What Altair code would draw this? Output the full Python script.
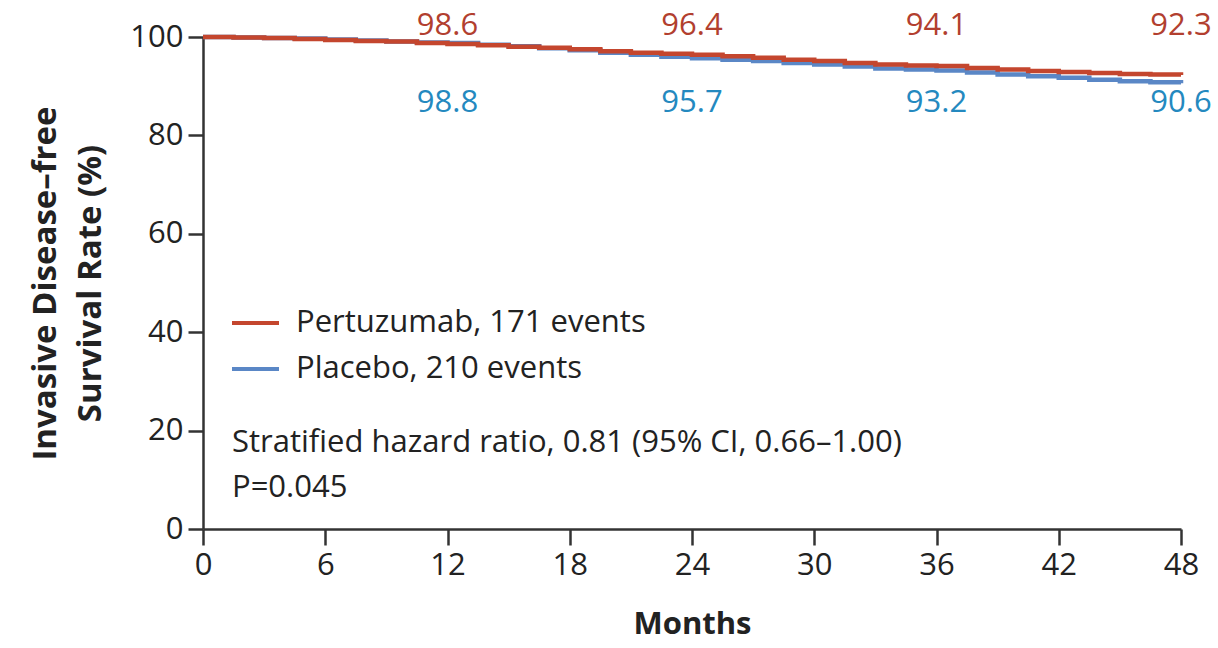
import altair as alt
import pandas as pd

# Kaplan-Meier estimates (invasive disease-free survival, %)
months = [0, 1.5, 3, 4.5, 6, 7.5, 9, 10.5, 12, 13.5, 15, 16.5, 18, 19.5, 21, 22.5,
          24, 25.5, 27, 28.5, 30, 31.5, 33, 34.5, 36, 37.5, 39, 40.5, 42, 43.5, 45, 46.5, 48]
pertuzumab = [100, 99.9, 99.8, 99.6, 99.4, 99.2, 99.1, 98.8, 98.6, 98.3, 98.0, 97.8, 97.5,
              97.1, 96.8, 96.6, 96.4, 96.1, 95.8, 95.4, 95.1, 94.7, 94.4, 94.2, 94.1, 93.7,
              93.4, 93.1, 92.9, 92.7, 92.5, 92.4, 92.3]
placebo = [100, 99.9, 99.8, 99.7, 99.5, 99.3, 99.1, 98.9, 98.8, 98.4, 98.1, 97.7, 97.3,
           96.8, 96.4, 96.0, 95.7, 95.4, 95.1, 94.7, 94.4, 94.0, 93.6, 93.4, 93.2, 92.8,
           92.4, 92.0, 91.7, 91.3, 91.0, 90.8, 90.6]

# Rates printed at yearly landmarks
landmark_months = [12, 24, 36, 48]
pertuzumab_landmarks = [98.6, 96.4, 94.1, 92.3]
placebo_landmarks = [98.8, 95.7, 93.2, 90.6]

x_ticks = [0, 6, 12, 18, 24, 30, 36, 42, 48]
y_ticks = [0, 20, 40, 60, 80, 100]

RED_LINE = "#c4462e"
BLUE_LINE = "#5a87c6"
RED_TEXT = "#b23f2f"
BLUE_TEXT = "#2489bf"
FONT = "Open Sans"

curves = pd.concat([
    pd.DataFrame({"month": months, "rate": placebo, "arm": "Placebo", "order": 0}),
    pd.DataFrame({"month": months, "rate": pertuzumab, "arm": "Pertuzumab", "order": 1}),
])

x_scale = alt.Scale(domain=[0, 48], nice=False, zero=False)
y_scale = alt.Scale(domain=[0, 100], nice=False)

x_enc = alt.X("month:Q", scale=x_scale, axis=alt.Axis(
    values=x_ticks, title="Months", grid=False, tickSize=16, tickWidth=2.5,
    domainWidth=2.5, domainColor="#333333", tickColor="#333333",
    labelFontSize=31, labelFont=FONT, labelColor="#222222", labelPadding=5,
    titleFontSize=31, titleFont=FONT, titleFontWeight="bold", titleColor="#222222",
    titlePadding=29, labelFlush=False))
y_enc = alt.Y("rate:Q", scale=y_scale, axis=alt.Axis(
    values=y_ticks, title=["Invasive Disease–free", "Survival Rate (%)"], grid=False,
    tickSize=15, tickWidth=2.5, domainWidth=2.5, domainColor="#333333",
    tickColor="#333333", labelFontSize=31, labelFont=FONT, labelColor="#222222",
    labelPadding=5, titleFontSize=33, titleFont=FONT, titleFontWeight="bold",
    titleColor="#222222", titlePadding=22, titleLineHeight=45))

lines = alt.Chart(curves).mark_line(interpolate="step-after", strokeWidth=4.5).encode(
    x=x_enc, y=y_enc,
    color=alt.Color("arm:N", scale=alt.Scale(domain=["Pertuzumab", "Placebo"],
                                             range=[RED_LINE, BLUE_LINE]), legend=None),
    detail="order:O",
    order="order:O",
)

lab_red = pd.DataFrame({"month": landmark_months, "rate": pertuzumab_landmarks})
lab_blue = pd.DataFrame({"month": landmark_months, "rate": placebo_landmarks})

red_text = alt.Chart(lab_red).mark_text(
    font=FONT, fontSize=31, color=RED_TEXT, align="center", baseline="middle"
).encode(x=alt.X("month:Q", scale=x_scale), y=alt.value(-11),
         text=alt.Text("rate:Q", format=".1f"))
blue_text = alt.Chart(lab_blue).mark_text(
    font=FONT, fontSize=31, color=BLUE_TEXT, align="center", baseline="middle"
).encode(x=alt.X("month:Q", scale=x_scale), y=alt.value(66),
         text=alt.Text("rate:Q", format=".1f"))

# Legend and statistics annotation
legend_df = pd.DataFrame({
    "label": ["Pertuzumab, 171 events", "Placebo, 210 events"],
    "ypx": [286, 332],
    "arm": ["Pertuzumab", "Placebo"],
})
legend_lines = alt.Chart(legend_df).mark_rule(strokeWidth=4).encode(
    x=alt.value(29), x2=alt.value(76), y=alt.Y("ypx:Q", scale=None),
    color=alt.Color("arm:N", scale=alt.Scale(domain=["Pertuzumab", "Placebo"],
                                             range=[RED_LINE, BLUE_LINE]), legend=None),
)
legend_text = alt.Chart(legend_df).mark_text(
    font=FONT, fontSize=31, color="#222222", align="left", baseline="middle"
).encode(x=alt.value(93), y=alt.Y("ypx:Q", scale=None), text="label:N")

stats_df = pd.DataFrame({
    "label": ["Stratified hazard ratio, 0.81 (95% CI, 0.66–1.00)", "P=0.045"],
    "ypx": [406, 451],
})
stats_text = alt.Chart(stats_df).mark_text(
    font=FONT, fontSize=31, color="#222222", align="left", baseline="middle"
).encode(x=alt.value(29), y=alt.Y("ypx:Q", scale=None), text="label:N")

chart = alt.layer(
    lines, red_text, blue_text, legend_lines, legend_text, stats_text
).resolve_scale(color="independent").properties(
    width=978, height=492,
    autosize=alt.AutoSizeParams(type="none"),
    padding={"left": 203, "top": 37, "right": 37, "bottom": 119},
    background="white",
).configure_view(stroke=None)

chart.save("out.html", embed_options={"renderer": "svg", "actions": False})
